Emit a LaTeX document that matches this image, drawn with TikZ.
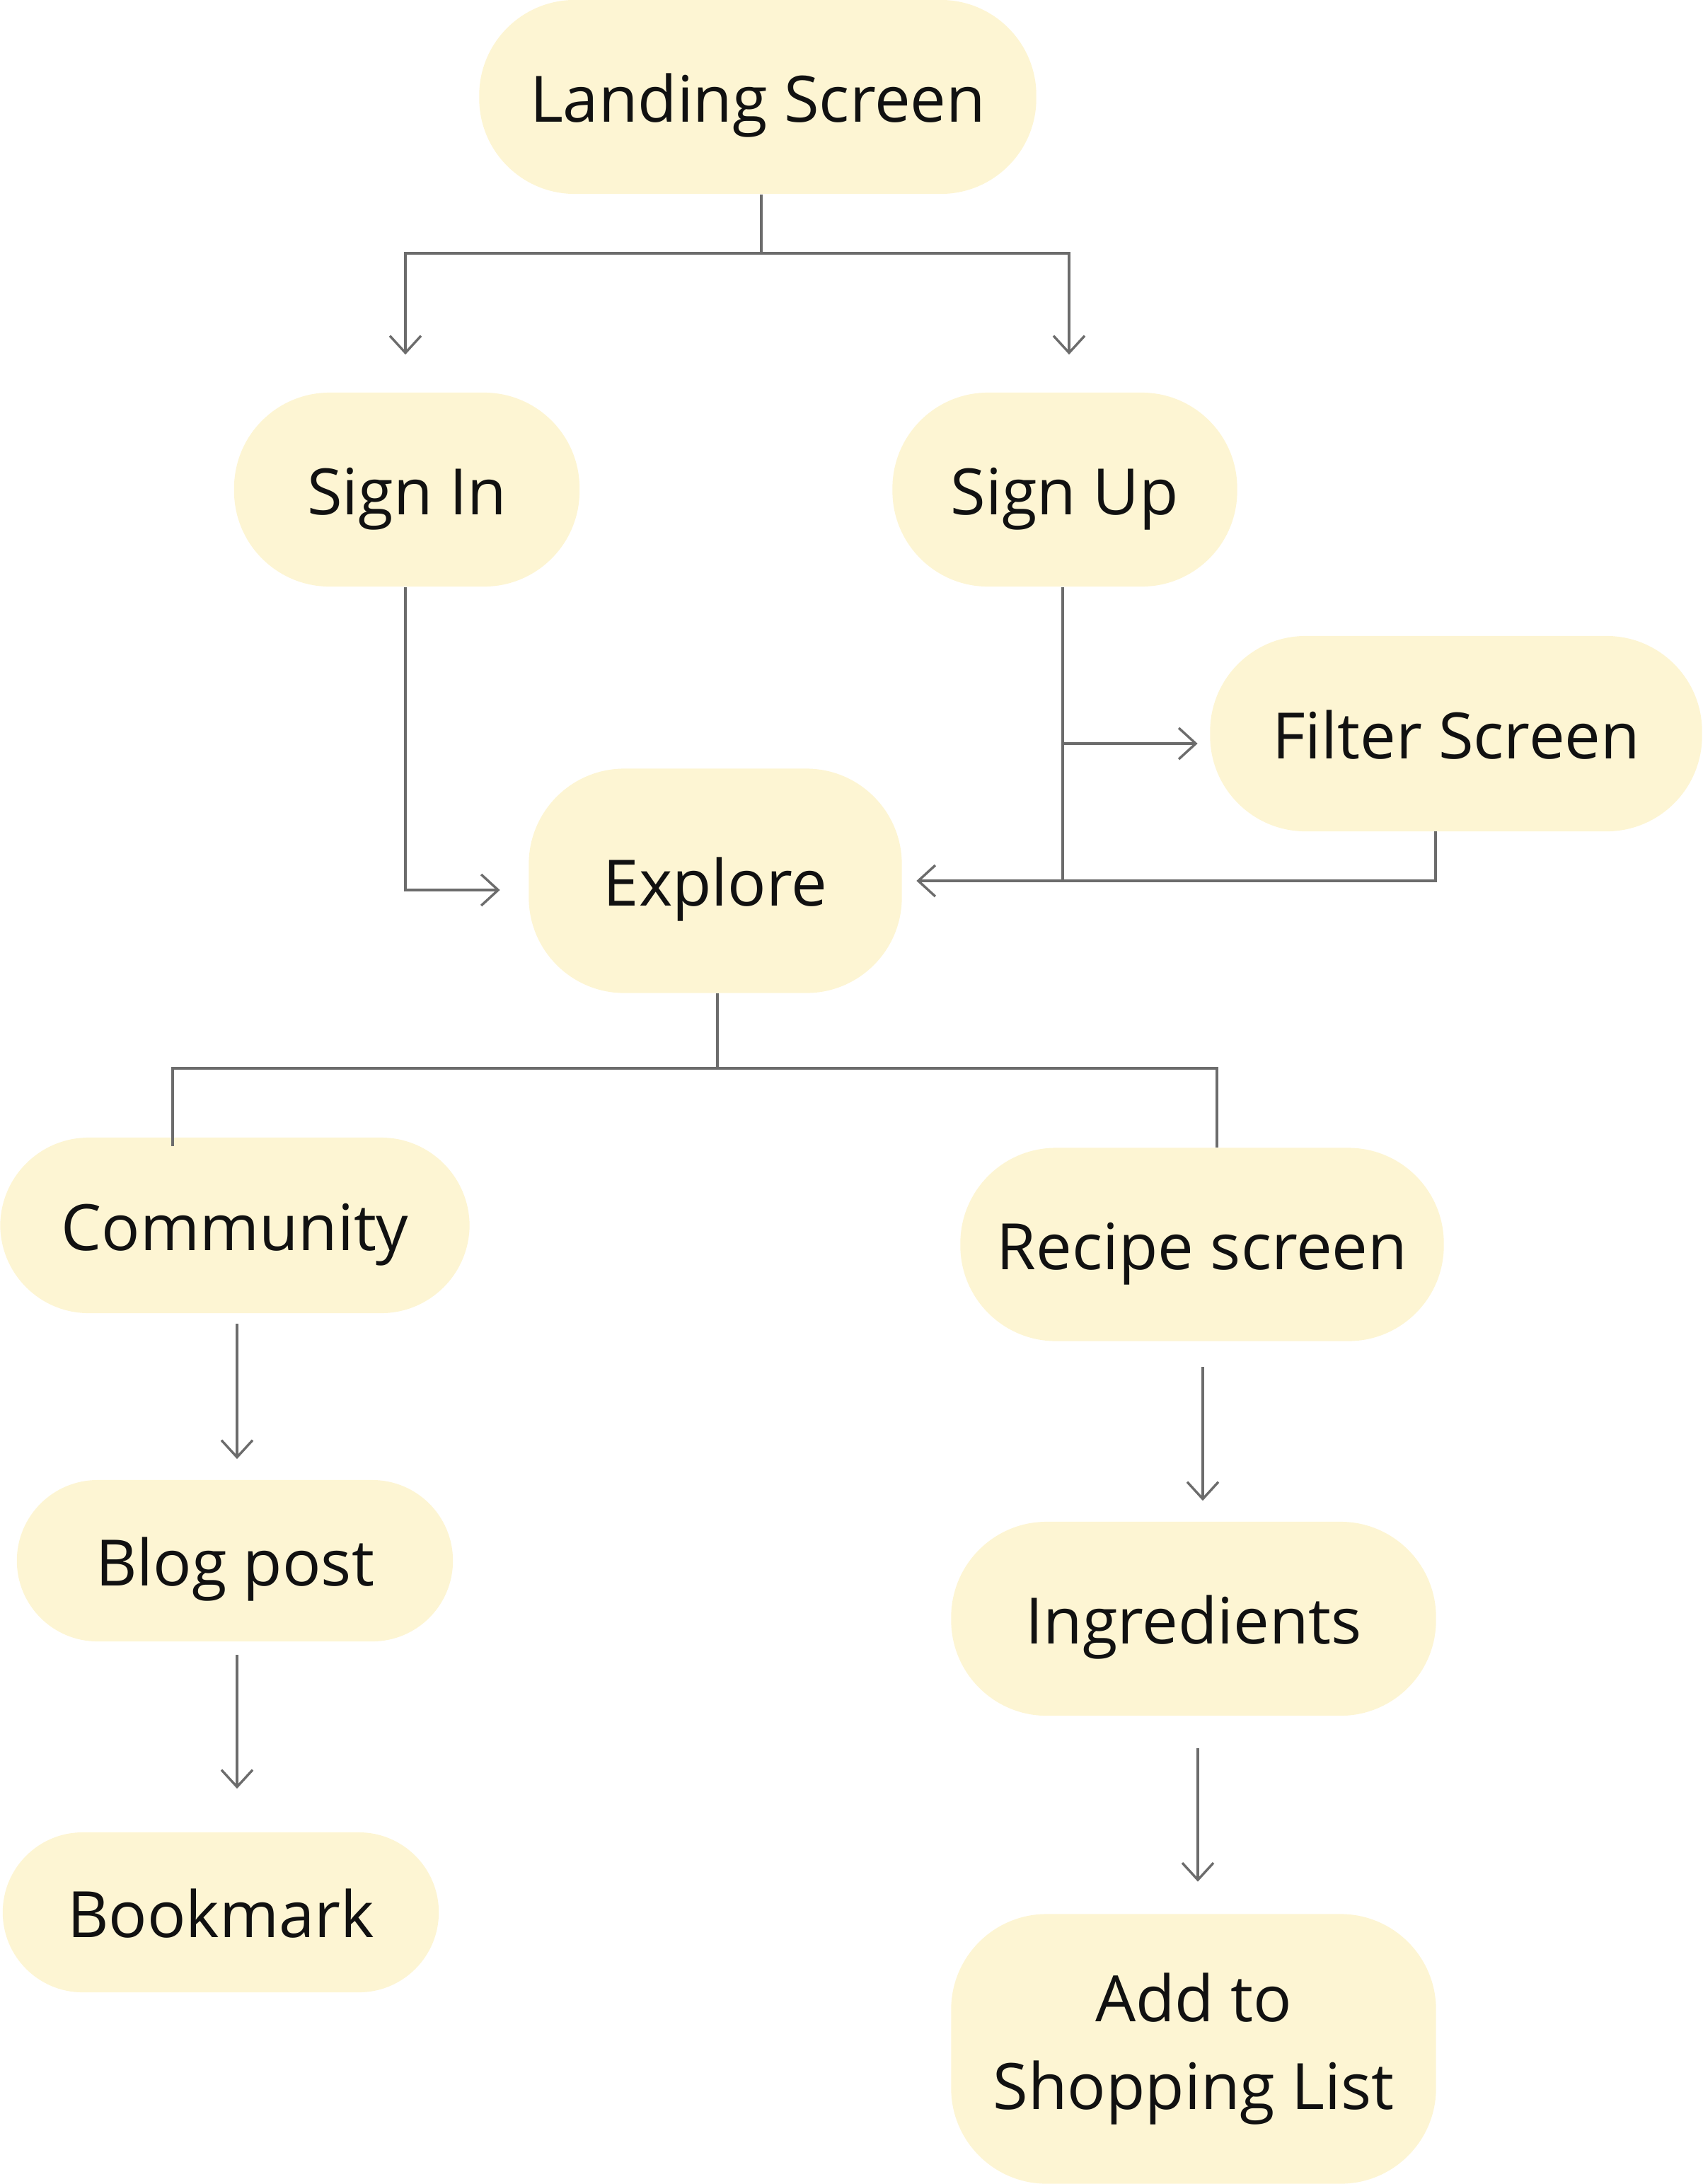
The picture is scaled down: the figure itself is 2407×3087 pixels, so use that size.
\documentclass[tikz,border=0pt]{standalone}
\usepackage{fontspec}
\setmainfont{Open Sans}
\usetikzlibrary{arrows.meta}
\definecolor{boxfill}{HTML}{FDF5D3}
\definecolor{linegray}{HTML}{6C6C6C}
\definecolor{txt}{HTML}{111111}
\begin{document}
\begin{tikzpicture}[x=0.01cm,y=-0.01cm,
  screen/.style={rectangle, rounded corners=1.35cm, fill=boxfill, draw=none,
    text=txt, font=\fontsize{25.7pt}{35pt}\selectfont, inner sep=0pt,
    text height=0.71cm, text depth=0pt},
  conn/.style={draw=linegray, line width=0.034cm},
  arr/.style={conn, -{Straight Barb[length=0.24cm,width=0.44cm,line width=0.034cm]}}
]
\useasboundingbox (0,0) rectangle (2407,3087);

\node[screen, minimum width=7.87cm, minimum height=2.74cm] (land) at (1071,137) {Landing Screen};
\node[screen, minimum width=4.88cm, minimum height=2.74cm] (signin) at (575,692) {Sign In\hspace{0.34cm}};
\node[screen, minimum width=4.87cm, minimum height=2.74cm] (signup) at (1505,692) {Sign Up};
\node[screen, minimum width=6.95cm, minimum height=2.76cm] (filter) at (2058,1037) {Filter Screen};
\node[screen, minimum width=5.27cm, minimum height=3.17cm] (explore) at (1011,1245) {Explore};
\node[screen, minimum width=6.63cm, minimum height=2.48cm, rounded corners=1.25cm] (community) at (332,1732) {Community};
\node[screen, minimum width=6.83cm, minimum height=2.73cm] (recipe) at (1699,1759) {Recipe screen};
\node[screen, minimum width=6.16cm, minimum height=2.28cm, rounded corners=1.14cm] (blog) at (332,2206) {Blog post};
\node[screen, minimum width=6.16cm, minimum height=2.26cm, rounded corners=1.13cm] (bookmark) at (312,2703) {Bookmark};
\node[screen, minimum width=6.85cm, minimum height=2.74cm] (ingr) at (1687,2288) {Ingredients};
\node[screen, minimum width=6.85cm, minimum height=3.81cm, align=center, text height=, text depth=] (add) at (1687,2896) {Add to\\Shopping List};

% Landing -> Sign In / Sign Up
\coordinate (j1) at (1076,358);
\draw[conn] (land.south -| j1) -- (j1);
\draw[arr, shorten >=0.53cm] (j1) -| (signin.north -| 573,0);
\draw[arr, shorten >=0.53cm] (j1) -| (signup.north -| 1511,0);

% Sign In -> Explore
\draw[arr, shorten >=0.40cm] (signin.south -| 573,0) |- (explore.west |- 0,1258);

% Sign Up -> Filter / Explore
\coordinate (su1) at (1502,1051);
\coordinate (su2) at (1502,1244);
\draw[conn] (signup.south -| su2) -- (su2);
\draw[arr, shorten >=0.17cm] (su1) -- (filter.west |- su1);
\coordinate (f1) at (2029,1175);
\draw[arr, shorten >=0.20cm] (f1) |- (explore.east);

% Explore -> Community / Recipe
\coordinate (j2) at (1014,1510);
\coordinate (c1) at (244,1620);
\coordinate (r1) at (1720,1622);
\draw[conn] (explore.south -| j2) -- (j2);
\draw[conn] (c1) |- (j2) -| (r1);

% Community -> Blog -> Bookmark
\draw[arr, shorten <=0.14cm, shorten >=0.29cm] (community.south -| 335,0) -- (blog.north -| 335,0);
\draw[arr, shorten <=0.18cm, shorten >=0.61cm] (blog.south -| 335,0) -- (bookmark.north -| 335,0);

% Recipe -> Ingredients -> Add
\draw[arr, shorten <=0.36cm, shorten >=0.29cm] (recipe.south -| 1700,0) -- (ingr.north -| 1700,0);
\draw[arr, shorten <=0.45cm, shorten >=0.45cm] (ingr.south -| 1693,0) -- (add.north -| 1693,0);
\end{tikzpicture}
\end{document}
